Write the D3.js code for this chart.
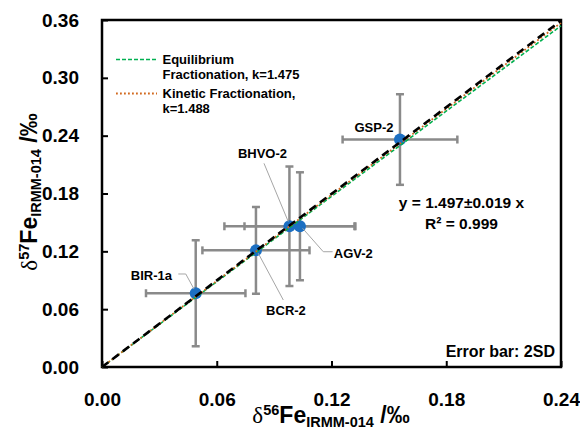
<!DOCTYPE html>
<html>
<head>
<meta charset="utf-8">
<script src="https://cdn.jsdelivr.net/npm/d3@7"></script>
<style>
  body { margin: 0; background: #fff; }
  text { font-family: "Liberation Sans", Arial, sans-serif; font-weight: bold; fill: #000; }
</style>
</head>
<body>
<script>
var width = 580;
var height = 430;

// samples and values
var samples = ["BIR-1a", "BCR-2", "BHVO-2", "AGV-2", "GSP-2"];
var d56 = [0.049, 0.0805, 0.098, 0.1035, 0.1558];
var d57 = [0.0765, 0.121, 0.146, 0.146, 0.236];
var err56 = [0.026, 0.028, 0.034, 0.029, 0.030];
var err57 = [0.055, 0.045, 0.062, 0.056, 0.047];

var xTicks = [0, 0.06, 0.12, 0.18, 0.24];
var yTicks = [0, 0.06, 0.12, 0.18, 0.24, 0.30, 0.36];

var slopeFit = 1.497;
var slopeEq = 1.475;
var slopeKin = 1.488;

// label placement (data units) for each sample
var labelAt = [
  { x: 0.0366, y: 0.0765, anchor: "end", lead: [[0.0399, 0.0965], [0.0438, 0.0965], [0.0481, 0.0809]], ty: 0.0947 },
  { x: 0.0962, y: 0.0584, anchor: "middle", lead: [[0.0817, 0.118], [0.0948, 0.0695]] },
  { x: 0.0839, y: 0.2217, anchor: "middle", lead: [[0.0847, 0.2113], [0.0974, 0.1508]] },
  { x: 0.1212, y: 0.118, anchor: "start", lead: [[0.1049, 0.1439], [0.1157, 0.1196], [0.1206, 0.1196]] },
  { x: 0.1422, y: 0.2487, anchor: "middle", lead: [] }
];

var data = samples.map(function (s, i) {
  return { name: s, x: d56[i], y: d57[i], ex: err56[i], ey: err57[i], lab: labelAt[i] };
});

var svg = d3.select("body").append("svg")
  .attr("width", width)
  .attr("height", height);

var xScale = d3.scaleLinear().domain([0, 0.24]).range([102, 561]);
var yScale = d3.scaleLinear().domain([0, 0.36]).range([367, 20]);

// axes with inward ticks
svg.append("g")
  .attr("transform", "translate(0," + yScale(0) + ")")
  .call(d3.axisBottom(xScale).tickValues(xTicks).tickSize(-6).tickPadding(26).tickFormat(d3.format(".2f")))
  .call(g => g.select(".domain").remove())
  .call(g => g.selectAll("line").attr("stroke", "#000").attr("stroke-width", 2))
  .call(g => g.selectAll("text").style("font-size", "19px"));

svg.append("g")
  .attr("transform", "translate(" + xScale(0) + ",0)")
  .call(d3.axisLeft(yScale).tickValues(yTicks).tickSize(-6).tickPadding(23).tickFormat(d3.format(".2f")))
  .call(g => g.select(".domain").remove())
  .call(g => g.selectAll("line").attr("stroke", "#000").attr("stroke-width", 2))
  .call(g => g.selectAll("text").style("font-size", "19px"));

svg.append("rect")
  .attr("x", xScale(0))
  .attr("y", yScale(0.36))
  .attr("width", xScale(0.24) - xScale(0))
  .attr("height", yScale(0) - yScale(0.36))
  .attr("fill", "none")
  .attr("stroke", "#000")
  .attr("stroke-width", 2.5);

// error bars
var bars = svg.append("g").attr("stroke", "#8a8a8a").attr("stroke-width", 2.5);
var cap = 4;
data.forEach(function (d) {
  var cx = xScale(d.x), cy = yScale(d.y);
  var x0 = xScale(d.x - d.ex), x1 = xScale(d.x + d.ex);
  var y0 = yScale(d.y - d.ey), y1 = yScale(d.y + d.ey);
  bars.append("line").attr("x1", x0).attr("x2", x1).attr("y1", cy).attr("y2", cy);
  bars.append("line").attr("x1", x0).attr("x2", x0).attr("y1", cy - cap).attr("y2", cy + cap);
  bars.append("line").attr("x1", x1).attr("x2", x1).attr("y1", cy - cap).attr("y2", cy + cap);
  bars.append("line").attr("x1", cx).attr("x2", cx).attr("y1", y0).attr("y2", y1);
  bars.append("line").attr("x1", cx - cap).attr("x2", cx + cap).attr("y1", y0).attr("y2", y0);
  bars.append("line").attr("x1", cx - cap).attr("x2", cx + cap).attr("y1", y1).attr("y2", y1);
});

svg.selectAll("circle")
  .data(data)
  .enter().append("circle")
  .attr("cx", d => xScale(d.x))
  .attr("cy", d => yScale(d.y))
  .attr("r", 6)
  .attr("fill", "#1c6fc2");

// fractionation lines and fit
var line = d3.line().x(d => xScale(d[0])).y(d => yScale(d[1]));
function seg(k) { return [[0, 0], [0.24, 0.24 * k]]; }

svg.append("path").datum(seg(slopeEq))
  .attr("d", line).attr("fill", "none")
  .attr("stroke", "#00b050").attr("stroke-width", 1.6).attr("stroke-dasharray", "4,2");
svg.append("path").datum(seg(slopeKin))
  .attr("d", line).attr("fill", "none")
  .attr("stroke", "#d2691e").attr("stroke-width", 1.8).attr("stroke-dasharray", "1.8,2.2");
svg.append("path").datum(seg(slopeFit))
  .attr("d", line).attr("fill", "none")
  .attr("stroke", "#000").attr("stroke-width", 2.6).attr("stroke-dasharray", "8,5");

// sample labels and leaders
var labs = svg.append("g");
data.forEach(function (d) {
  if (d.lab.lead.length) {
    labs.append("path").datum(d.lab.lead)
      .attr("d", line).attr("fill", "none")
      .attr("stroke", "#a6a6a6").attr("stroke-width", 1);
  }
  labs.append("text")
    .attr("x", xScale(d.lab.x))
    .attr("y", yScale(d.lab.ty || d.lab.y))
    .attr("dy", "0.35em")
    .attr("text-anchor", d.lab.anchor)
    .style("font-size", "13px")
    .text(d.name);
});

// legend
var legend = svg.append("g").style("font-size", "13px");
legend.append("line").attr("x1", 116).attr("x2", 157).attr("y1", 59.5).attr("y2", 59.5)
  .attr("stroke", "#00b050").attr("stroke-width", 1.6).attr("stroke-dasharray", "4,2");
legend.append("text").attr("x", 162.5).attr("y", 64).text("Equilibrium");
legend.append("text").attr("x", 162.5).attr("y", 78.5).text("Fractionation, k=" + slopeEq);
legend.append("line").attr("x1", 116).attr("x2", 157).attr("y1", 93.5).attr("y2", 93.5)
  .attr("stroke", "#d2691e").attr("stroke-width", 1.8).attr("stroke-dasharray", "1.8,2.2");
legend.append("text").attr("x", 162.5).attr("y", 98).text("Kinetic Fractionation,");
legend.append("text").attr("x", 162.5).attr("y", 112.5).text("k=" + slopeKin);

// regression text
svg.append("text").attr("x", 461.5).attr("y", 207.5).attr("text-anchor", "middle")
  .style("font-size", "15.5px").text("y = " + slopeFit + "\u00b10.019 x");
svg.append("text").attr("x", 461.5).attr("y", 228.5).attr("text-anchor", "middle")
  .style("font-size", "15.5px").text("R\u00b2 = 0.999");

svg.append("text").attr("x", 555).attr("y", 356.5).attr("text-anchor", "end")
  .style("font-size", "16px").text("Error bar: 2SD");

// axis titles
function title(t, sup) {
  t.append("tspan").style("font-family", "'Liberation Serif', serif").style("font-weight", "normal").text("\u03b4");
  t.append("tspan").style("font-size", "14.5px").attr("dy", -8).text(sup);
  t.append("tspan").attr("dy", 8).text("Fe");
  t.append("tspan").style("font-size", "14.5px").attr("dy", 4).text("IRMM-014");
  t.append("tspan").attr("dy", -4).text(" /\u2030");
}

var xt = svg.append("text").attr("x", 331).attr("y", 423).attr("text-anchor", "middle")
  .style("font-size", "23px");
title(xt, "56");

var yt = svg.append("text").attr("transform", "translate(37,192) rotate(-90)")
  .attr("text-anchor", "middle").style("font-size", "23px");
title(yt, "57");
</script>
</body>
</html>
